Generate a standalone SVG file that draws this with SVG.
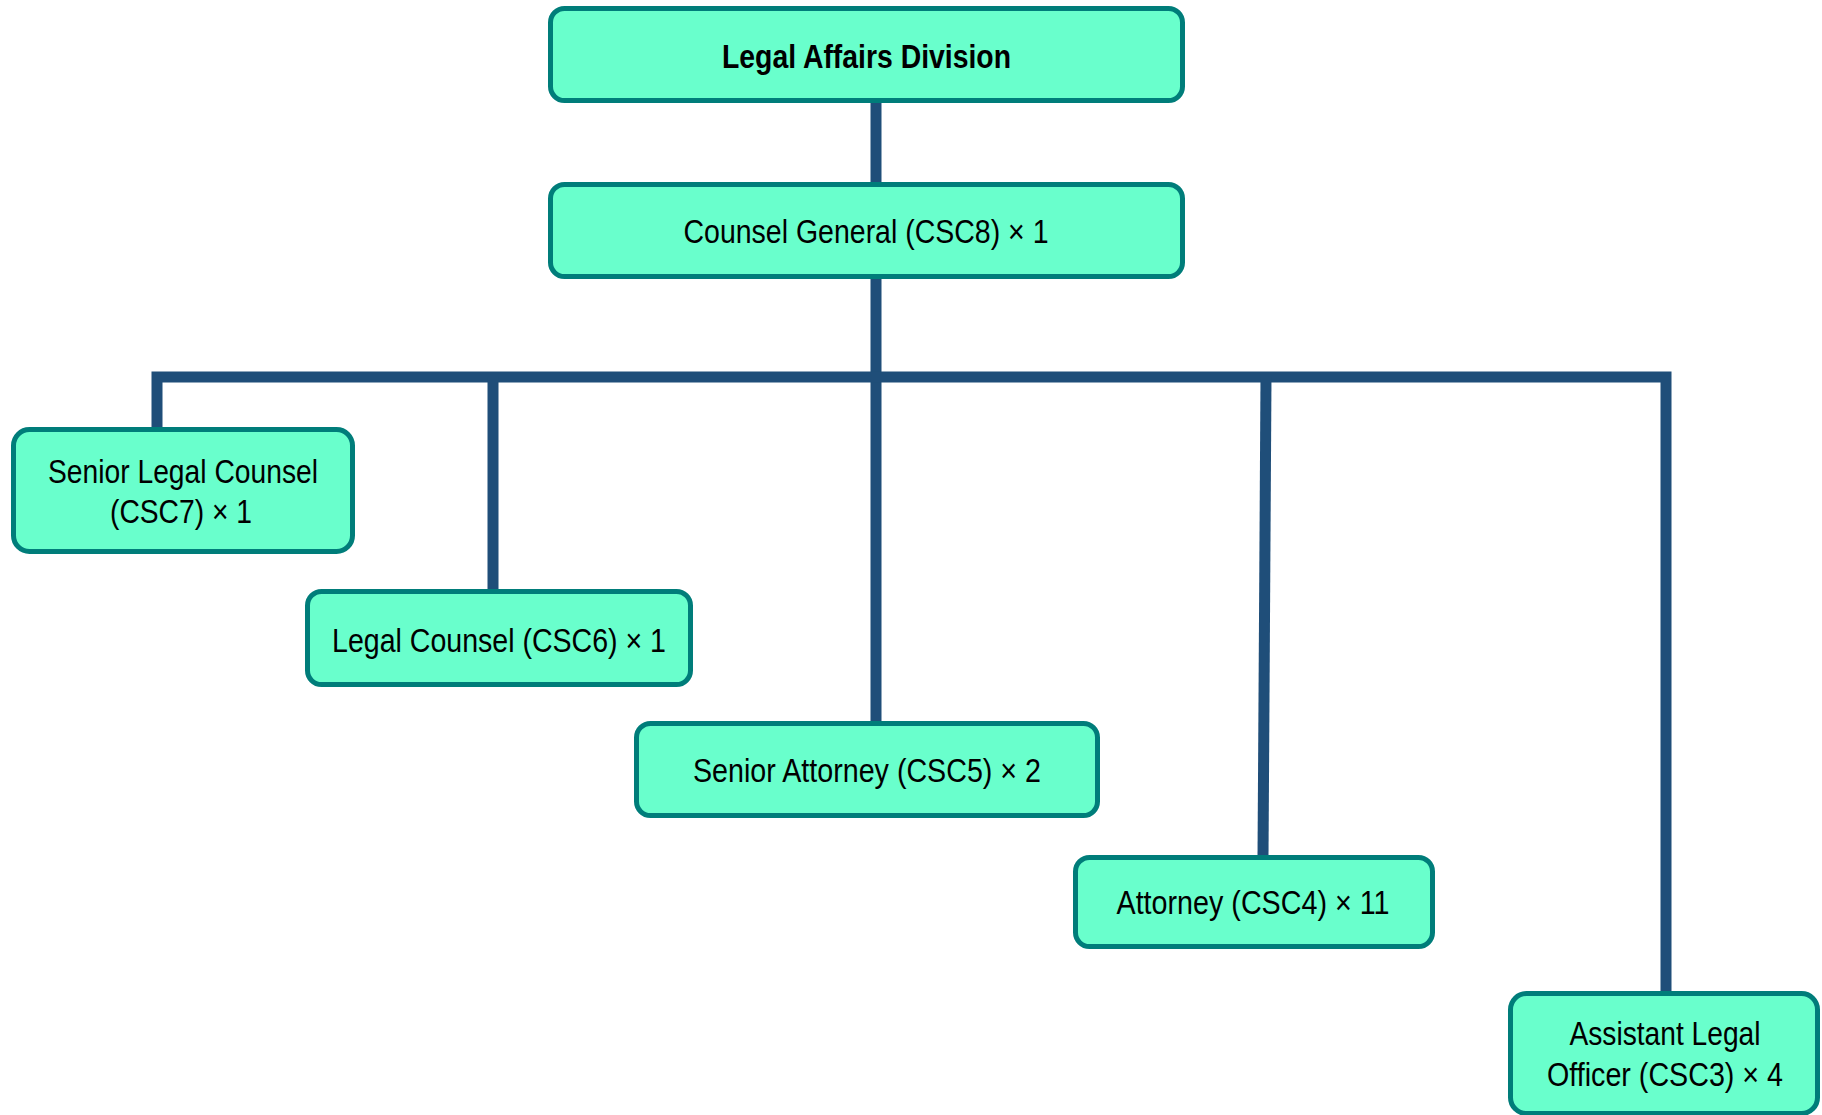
<svg xmlns="http://www.w3.org/2000/svg" width="1822" height="1115" viewBox="0 0 1822 1115">
<style>
.box{fill:#69FFCC;stroke:#007D7A;stroke-width:5}
.lbl{font-family:"Liberation Sans",Arial,sans-serif;font-size:34px;fill:#000;text-anchor:middle}
.b{font-weight:bold;font-size:33px}
.ln{fill:none;stroke:#1F4E79;stroke-width:11;stroke-linejoin:miter;stroke-linecap:butt}
</style>
<rect width="1822" height="1115" fill="#fff"/>
<g id="connectors">
<line class="ln" x1="876" y1="100" x2="876" y2="185"/>
<line class="ln" x1="876" y1="276" x2="876" y2="724"/>
<path class="ln" d="M157,430 V377 H1666 V994"/>
<line class="ln" x1="493" y1="377" x2="493" y2="592"/>
<line class="ln" x1="1266" y1="377" x2="1263" y2="858"/>
</g>
<g id="node-legal-affairs">
<rect class="box" x="550.5" y="8.5" width="632" height="92" rx="14"/>
<text class="lbl b" x="866.5" y="68" textLength="289" lengthAdjust="spacingAndGlyphs">Legal Affairs Division</text>
</g>
<g id="node-counsel-general">
<rect class="box" x="550.5" y="184.5" width="632" height="92" rx="14"/>
<text class="lbl" x="866" y="243" textLength="365" lengthAdjust="spacingAndGlyphs">Counsel General (CSC8) × 1</text>
</g>
<g id="node-senior-legal-counsel">
<rect class="box" x="13.5" y="429.5" width="339" height="122" rx="16"/>
<text class="lbl" x="183" y="483" textLength="270" lengthAdjust="spacingAndGlyphs">Senior Legal Counsel</text>
<text class="lbl" x="181" y="523" textLength="142" lengthAdjust="spacingAndGlyphs">(CSC7) × 1</text>
</g>
<g id="node-legal-counsel">
<rect class="box" x="307.5" y="591.5" width="383" height="93" rx="14"/>
<text class="lbl" x="499" y="652" textLength="334" lengthAdjust="spacingAndGlyphs">Legal Counsel (CSC6) × 1</text>
</g>
<g id="node-senior-attorney">
<rect class="box" x="636.5" y="723.5" width="461" height="92" rx="14"/>
<text class="lbl" x="867" y="782" textLength="348" lengthAdjust="spacingAndGlyphs">Senior Attorney (CSC5) × 2</text>
</g>
<g id="node-attorney">
<rect class="box" x="1075.5" y="857.5" width="357" height="89" rx="14"/>
<text class="lbl" x="1253" y="914" textLength="273" lengthAdjust="spacingAndGlyphs">Attorney (CSC4) × 11</text>
</g>
<g id="node-assistant-legal-officer">
<rect class="box" x="1510.5" y="993.5" width="307" height="120" rx="16"/>
<text class="lbl" x="1665" y="1045" textLength="191" lengthAdjust="spacingAndGlyphs">Assistant Legal</text>
<text class="lbl" x="1665" y="1086" textLength="236" lengthAdjust="spacingAndGlyphs">Officer (CSC3) × 4</text>
</g>
</svg>
